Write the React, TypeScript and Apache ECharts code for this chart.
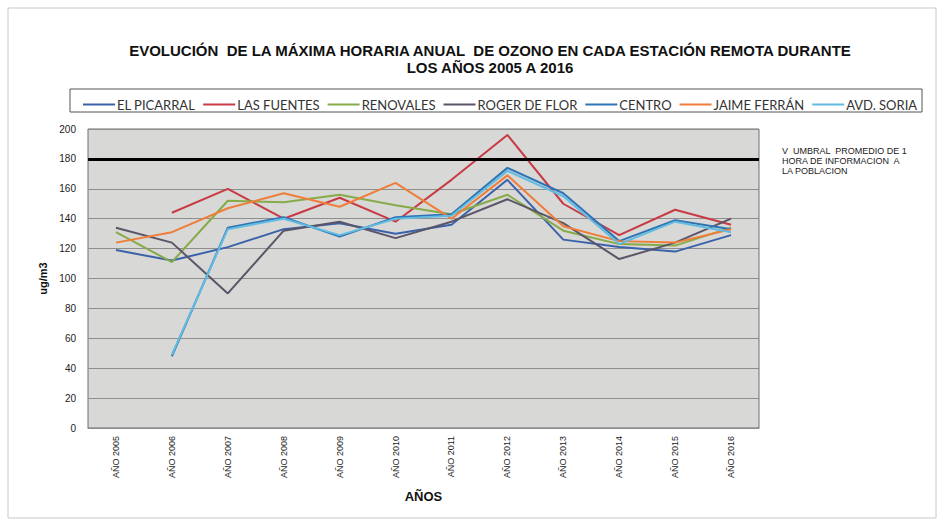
import React, { useEffect, useRef } from "react";
import * as echarts from "echarts";

const years = ["AÑO 2005", "AÑO 2006", "AÑO 2007", "AÑO 2008", "AÑO 2009", "AÑO 2010", "AÑO 2011", "AÑO 2012", "AÑO 2013", "AÑO 2014", "AÑO 2015", "AÑO 2016"];
const elPicarral = [119, 112, 121, 133, 137, 130, 136, 166, 126, 121, 118, 129];
const lasFuentes = [null, 144, 160, 140, 154, 138, 166, 196, 150, 129, 146, 136];
const renovales = [131, 111, 152, 151, 156, 149, 143, 156, 132, 123, 122, 134];
const rogerDeFlor = [134, 124, 90, 132, 138, 127, 138, 153, 137, 113, 124, 140];
const centro = [null, 48, 134, 141, 128, 141, 143, 174, 157, 125, 139, 133];
const jaimeFerran = [124, 131, 147, 157, 148, 164, 140, 169, 135, 125, 124, 133];
const avdSoria = [null, 49, 133, 140, 129, 140, 142, 172, 155, 123, 138, 131];
const threshold = 180;
const yTicks = { min: 0, max: 200, interval: 20 };

const seriesDefs = [
  { name: "EL PICARRAL", data: elPicarral, color: "#3a62ab" },
  { name: "LAS FUENTES", data: lasFuentes, color: "#c83a44" },
  { name: "RENOVALES", data: renovales, color: "#86ab48" },
  { name: "ROGER DE FLOR", data: rogerDeFlor, color: "#5b5568" },
  { name: "CENTRO", data: centro, color: "#2f74b5" },
  { name: "JAIME FERRÁN", data: jaimeFerran, color: "#f07d3a" },
  { name: "AVD. SORIA", data: avdSoria, color: "#62bce2" },
];

export default function App() {
  const ref = useRef<HTMLDivElement>(null);
  useEffect(() => {
    document.body.style.margin = "0";
    const chart = echarts.init(ref.current!, null, { renderer: "svg" });
    const series: any[] = seriesDefs.map((s, i) => ({
      name: s.name,
      type: "line",
      data: s.data,
      symbol: "none",
      connectNulls: false,
      lineStyle: { color: s.color, width: 2 },
      itemStyle: { color: s.color },
      z: 3,
      ...(i === 0
        ? {
            markLine: {
              silent: true,
              symbol: "none",
              label: { show: false },
              lineStyle: { color: "#000", width: 3, type: "solid" },
              data: [{ yAxis: threshold }],
            },
          }
        : {}),
    }));
    chart.setOption({
      animation: false,
      backgroundColor: "#ffffff",
      title: {
        text: "EVOLUCIÓN  DE LA MÁXIMA HORARIA ANUAL  DE OZONO EN CADA ESTACIÓN REMOTA DURANTE\nLOS AÑOS 2005 A 2016",
        left: 485,
        top: 37,
        textAlign: "center",
        textStyle: {
          fontFamily: "Liberation Sans",
          fontWeight: "bold",
          fontSize: 15,
          color: "#111",
          lineHeight: 17,
        },
      },
      legend: {
        left: 78,
        top: 93,
        icon: "rect",
        itemWidth: 32,
        itemHeight: 2,
        itemGap: 8,
        textStyle: { fontFamily: "Lato", fontSize: 13, color: "#333", padding: [0, 0, 0, -3] },
        data: seriesDefs.map((s) => s.name),
      },
      graphic: [
        { type: "rect", shape: { x: 8, y: 8, width: 928, height: 510 }, style: { fill: "none", stroke: "#c8c8c8", lineWidth: 1 } },
        { type: "rect", shape: { x: 70, y: 89, width: 852, height: 23 }, style: { fill: "none", stroke: "#555", lineWidth: 1 } },
        {
          type: "text",
          left: 782,
          top: 146,
          style: {
            text: "V  UMBRAL  PROMEDIO DE 1\nHORA DE INFORMACION  A\nLA POBLACION",
            fontFamily: "Liberation Sans",
            fontSize: 9,
            lineHeight: 10,
            fill: "#222",
          },
        },
      ],
      grid: {
        left: 88,
        right: 185,
        top: 129,
        bottom: 98,
        show: true,
        backgroundColor: "#d8d8d6",
        borderColor: "#6e6e6e",
        borderWidth: 1,
      },
      xAxis: {
        type: "category",
        data: years,
        boundaryGap: true,
        name: "AÑOS",
        nameLocation: "middle",
        nameGap: 62,
        nameTextStyle: { fontFamily: "Liberation Sans", fontWeight: "bold", fontSize: 13, color: "#111" },
        axisLine: { show: true, lineStyle: { color: "#8a8a8a" } },
        axisTick: { show: false },
        axisLabel: { rotate: 90, margin: 8, fontFamily: "Liberation Sans", fontSize: 9, color: "#222" },
      },
      yAxis: {
        type: "value",
        min: yTicks.min,
        max: yTicks.max,
        interval: yTicks.interval,
        name: "ug/m3",
        nameLocation: "middle",
        nameRotate: 90,
        nameGap: 36,
        nameTextStyle: { fontFamily: "Liberation Sans", fontWeight: "bold", fontSize: 11, color: "#111" },
        axisLine: { show: false },
        axisTick: { show: false },
        axisLabel: { margin: 12, fontFamily: "Liberation Sans", fontSize: 10, color: "#222" },
        splitLine: { lineStyle: { color: "#8e8e8e", width: 1 } },
      },
      series,
    });
    return () => chart.dispose();
  }, []);
  return <div ref={ref} style={{ position: "absolute", left: 0, top: 0, width: 944, height: 526 }} />;
}
